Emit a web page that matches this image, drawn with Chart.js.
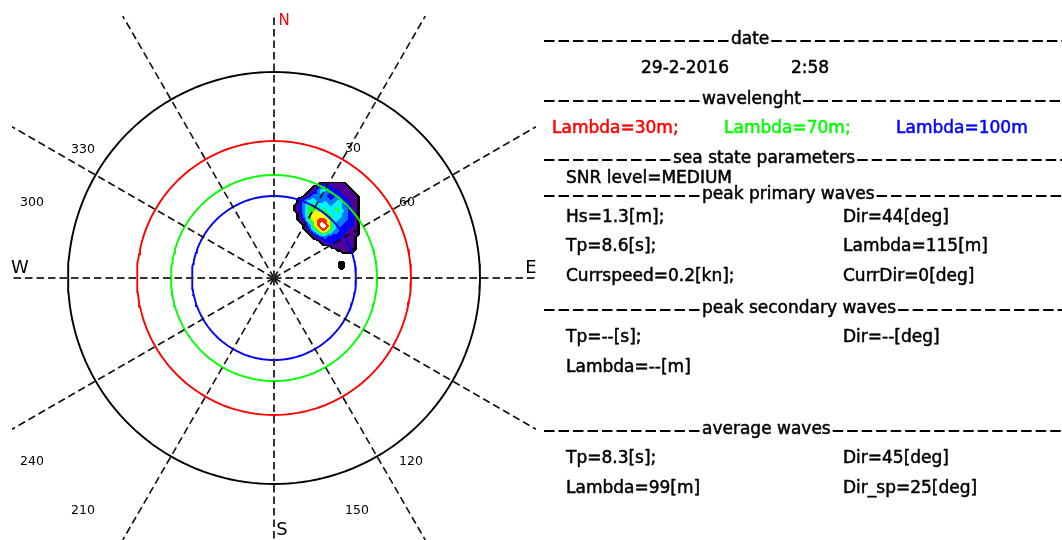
<!DOCTYPE html>
<html>
<head>
<meta charset="utf-8">
<script src="https://cdn.jsdelivr.net/npm/chart.js@4.4.1/dist/chart.umd.min.js"></script>
<style>
  html, body { margin: 0; padding: 0; background: #ffffff; }
  #c { display: block; }
</style>
</head>
<body>
<canvas id="c" width="1062" height="540" style="width:1062px;height:540px"></canvas>
<script>
// ---------------- data ----------------
// reference wavelength rings (m) and their radial position on the plot (radial units)
const ringLambda = [30, 70, 100];
const ringRadius = [68.5, 51.5, 41];
const outerRadius = 103;

// direction spokes (deg, clockwise from N) and their labels
const spokeDirs = [0, 30, 60, 90, 120, 150, 180, 210, 240, 270, 300, 330];
const dirLabels = ['30', '60', '120', '150', '210', '240', '300', '330'];
const compassLabels = ['N', 'E', 'S', 'W'];

// directional wave spectrum, contour level per grid node (0 = no energy)
const specX0 = 9;       // kx of first column (radial units)
const specY0 = 48.5;    // ky of first row (radial units)
const specStep = 1.5;   // grid spacing (radial units)
const specRows = [
  '000000000000000000000000',
  '000000000123222222100000',
  '000000012344332222210000',
  '000000123455433322221000',
  '000001233454433332222100',
  '000012344444333433222210',
  '001234454444434443322210',
  '001345555445444554332210',
  '012345665555545554332210',
  '012345666655555654432210',
  '012345667666555655433210',
  '001345677776655554433210',
  '001245677777665554433210',
  '001235677888765544433210',
  '000124567898765444333210',
  '000013467899865443333210',
  '000012456788765433322210',
  '000001245677654433322210',
  '000000123455443333222210',
  '000000012334333332222100',
  '000000000123333322222100',
  '000000000012233222222100',
  '000000000000012222222100',
  '000000000000000112221100',
  '000000000000000001111000',
  '000000000000000000000000',
  '000000000000000000000000',
  '000000000000000011000000',
  '000000000000000011000000',
  '000000000000000011000000',
  '000000000000000000000000'
];

// text panel values
const dateText = '29-2-2016';
const timeText = '2:58';
const snrLevel = 'MEDIUM';
const primaryHs = 1.3, primaryDir = 44, primaryTp = 8.6, primaryLambda = 115;
const currSpeed = 0.2, currDir = 0;
const secondaryTp = '--', secondaryDir = '--', secondaryLambda = '--';
const averageTp = 8.3, averageDir = 45, averageLambda = 99, averageDirSp = 25;
const sectionTitles = ['date', 'wavelenght', 'sea state parameters',
                       'peak primary waves', 'peak secondary waves', 'average waves'];

// ---------------- styles / layout ----------------
const LIM = 131;
const ringColors = ['#ff0000', '#00ff00', '#0000ff'];
const levelRGB = [null, [0, 0, 0], [80, 0, 150], [0, 0, 255], [0, 120, 255],
                  [0, 240, 255], [40, 255, 40], [255, 255, 0], [255, 40, 0], [255, 255, 255]];
const panelFont = '17px "DejaVu Sans", sans-serif';

function circlePoints(r) {
  const pts = [];
  for (let a = 0; a <= 360; a += 2) {
    const t = a * Math.PI / 180;
    pts.push({ x: r * Math.sin(t), y: r * Math.cos(t) });
  }
  return pts;
}

const datasets = [];
// rings
datasets.push({ data: circlePoints(outerRadius), borderColor: '#000000', borderWidth: 1.9, order: 2 });
ringRadius.forEach((r, i) => {
  datasets.push({ data: circlePoints(r), borderColor: ringColors[i], borderWidth: 1.9, order: 2 });
});
// spokes, running from the centre to the edge of the square plot area
spokeDirs.forEach(d => {
  const t = d * Math.PI / 180;
  const s = LIM / Math.max(Math.abs(Math.sin(t)), Math.abs(Math.cos(t)));
  const axial = d % 90 === 0;
  datasets.push({
    data: [{ x: 0, y: 0 }, { x: s * Math.sin(t), y: s * Math.cos(t) }],
    borderColor: axial ? '#333333' : '#111111',
    borderWidth: axial ? 2 : 1.6,
    borderDash: [7.5, 4], order: 1
  });
});
datasets.forEach(ds => { ds.showLine = true; ds.pointRadius = 0; ds.fill = false; ds.tension = 0; });

// spectrum drawn underneath rings and spokes
const spectrumPlugin = {
  id: 'spectrum',
  beforeDatasetsDraw(chart) {
    const { ctx, scales: { x, y } } = chart;
    const nr = specRows.length, nc = specRows[0].length;
    const vals = specRows.map(r => Array.from(r, ch => +ch));
    const xa = x.getPixelForValue(specX0), xb = x.getPixelForValue(specX0 + (nc - 1) * specStep);
    const ya = y.getPixelForValue(specY0), yb = y.getPixelForValue(specY0 - (nr - 1) * specStep);
    const px0 = Math.floor(Math.min(xa, xb)), px1 = Math.ceil(Math.max(xa, xb));
    const py0 = Math.floor(Math.min(ya, yb)), py1 = Math.ceil(Math.max(ya, yb));
    const w = px1 - px0 + 1, h = py1 - py0 + 1;
    const off = document.createElement('canvas');
    off.width = w; off.height = h;
    const octx = off.getContext('2d');
    const img = octx.createImageData(w, h);
    for (let j = 0; j < h; j++) {
      for (let i = 0; i < w; i++) {
        const dx = x.getValueForPixel(px0 + i + 0.5);
        const dy = y.getValueForPixel(py0 + j + 0.5);
        const fi = (dx - specX0) / specStep, fj = (specY0 - dy) / specStep;
        if (fi < 0 || fj < 0 || fi > nc - 1 || fj > nr - 1) continue;
        const ci = Math.min(Math.floor(fi), nc - 2), cj = Math.min(Math.floor(fj), nr - 2);
        const tx = fi - ci, ty = fj - cj;
        const v = vals[cj][ci] * (1 - tx) * (1 - ty) + vals[cj][ci + 1] * tx * (1 - ty) +
                  vals[cj + 1][ci] * (1 - tx) * ty + vals[cj + 1][ci + 1] * tx * ty;
        const lvl = Math.round(v);
        if (lvl <= 0) continue;
        const c = levelRGB[Math.min(lvl, 9)];
        const k = (j * w + i) * 4;
        img.data[k] = c[0]; img.data[k + 1] = c[1]; img.data[k + 2] = c[2]; img.data[k + 3] = 255;
      }
    }
    octx.putImageData(img, 0, 0);
    ctx.drawImage(off, px0, py0);
  }
};

// direction numbers and compass letters, placed in plot units
const dirLabelPos = [[39.5, 64.5], [66.5, 37.75], [68.5, -92], [41.5, -116.5],
                     [-95.5, -116.5], [-121, -92], [-121, 37.75], [-95.5, 64.25]];
const compassPos = [[5, 128.3], [128.5, 5], [4, -126], [-127, 5]];
const compassColor = ['#ff0000', '#000000', '#000000', '#000000'];
const compassFont = ['15px', '18px', '18px', '18px'];

const labelPlugin = {
  id: 'polarLabels',
  afterDatasetsDraw(chart) {
    const { ctx, scales: { x, y } } = chart;
    ctx.save();
    ctx.textAlign = 'center';
    ctx.textBaseline = 'middle';
    ctx.fillStyle = '#000';
    ctx.font = '12.5px "DejaVu Sans", sans-serif';
    dirLabels.forEach((t, i) => {
      ctx.fillText(t, x.getPixelForValue(dirLabelPos[i][0]), y.getPixelForValue(dirLabelPos[i][1]));
    });
    compassLabels.forEach((t, i) => {
      ctx.font = compassFont[i] + ' "DejaVu Sans", sans-serif';
      ctx.fillStyle = compassColor[i];
      ctx.fillText(t, x.getPixelForValue(compassPos[i][0]), y.getPixelForValue(compassPos[i][1]));
    });
    ctx.restore();
  }
};

// right-hand information panel
const panel = {
  left: 544, right: 1062, colA: 566, colB: 843,
  titleX: [731, 702, 673, 702, 702, 702],
  titleY: [40, 100, 159, 195, 309, 430]
};
const panelPlugin = {
  id: 'infoPanel',
  afterDraw(chart) {
    const ctx = chart.ctx;
    ctx.save();
    ctx.font = panelFont;
    ctx.textBaseline = 'middle';
    ctx.textAlign = 'left';
    ctx.lineJoin = 'round';
    const put = (t, xx, yy, col) => {
      ctx.fillStyle = col || '#000';
      ctx.strokeStyle = col || '#000';
      ctx.lineWidth = 0.5;
      ctx.fillText(t, xx, yy);
      ctx.strokeText(t, xx, yy);
    };
    sectionTitles.forEach((t, i) => {
      const tx = panel.titleX[i], ty = panel.titleY[i];
      const w = ctx.measureText(t).width;
      put(t, tx, ty);
      ctx.strokeStyle = '#000';
      ctx.lineWidth = 2;
      ctx.setLineDash([10.5, 4]);
      ctx.beginPath();
      ctx.moveTo(panel.left, ty + 1); ctx.lineTo(tx - 2, ty + 1);
      ctx.moveTo(tx + w + 2, ty + 1); ctx.lineTo(panel.right, ty + 1);
      ctx.stroke();
      ctx.setLineDash([]);
    });
    put(dateText, 641, 69);
    put(timeText, 791, 69);
    const lx = [552, 724, 896];
    ringLambda.forEach((l, i) => {
      put('Lambda=' + l + 'm' + (i < ringLambda.length - 1 ? ';' : ''), lx[i], 129, ringColors[i]);
    });
    put('SNR level=' + snrLevel, panel.colA, 179);
    put('Hs=' + primaryHs.toFixed(1) + '[m];', panel.colA, 218);
    put('Dir=' + primaryDir + '[deg]', panel.colB, 218);
    put('Tp=' + primaryTp.toFixed(1) + '[s];', panel.colA, 247);
    put('Lambda=' + primaryLambda + '[m]', panel.colB, 247);
    put('Currspeed=' + currSpeed.toFixed(1) + '[kn];', panel.colA, 277);
    put('CurrDir=' + currDir + '[deg]', panel.colB, 277);
    put('Tp=' + secondaryTp + '[s];', panel.colA, 338);
    put('Dir=' + secondaryDir + '[deg]', panel.colB, 338);
    put('Lambda=' + secondaryLambda + '[m]', panel.colA, 368);
    put('Tp=' + averageTp.toFixed(1) + '[s];', panel.colA, 459);
    put('Dir=' + averageDir + '[deg]', panel.colB, 459);
    put('Lambda=' + averageLambda + '[m]', panel.colA, 489);
    put('Dir_sp=' + averageDirSp + '[deg]', panel.colB, 489);
    ctx.restore();
  }
};

const whiteBg = {
  id: 'whiteBg',
  beforeDraw(chart) {
    const ctx = chart.ctx;
    ctx.save(); ctx.fillStyle = '#ffffff';
    ctx.fillRect(0, 0, chart.width, chart.height);
    ctx.restore();
  }
};

new Chart(document.getElementById('c'), {
  type: 'scatter',
  data: { datasets },
  options: {
    responsive: false,
    animation: false,
    devicePixelRatio: 1,
    layout: { padding: { left: 12, top: 16, right: 526, bottom: 0 } },
    scales: {
      x: { type: 'linear', min: -LIM, max: LIM, display: false },
      y: { type: 'linear', min: -LIM, max: LIM, display: false }
    },
    plugins: { legend: { display: false }, tooltip: { enabled: false } }
  },
  plugins: [whiteBg, spectrumPlugin, labelPlugin, panelPlugin]
});
</script>
</body>
</html>
